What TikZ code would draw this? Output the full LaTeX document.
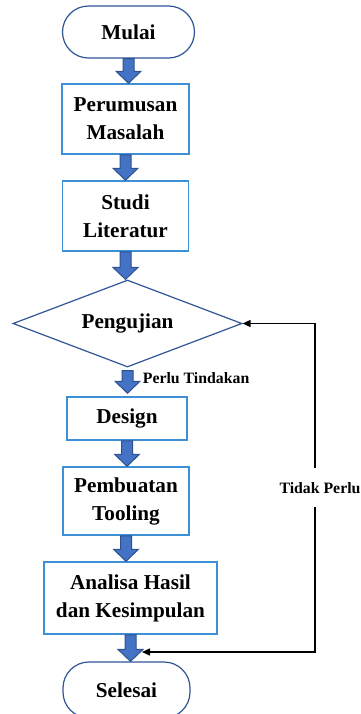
\documentclass[tikz,border=0pt]{standalone}
\usepackage{fontspec}
\setmainfont{Liberation Serif}
\usepackage{tikz}
\usepackage{xcolor}
\usetikzlibrary{arrows.meta,positioning,shapes,calc}
\definecolor{termline}{HTML}{2F5597}
\definecolor{boxline}{HTML}{3D8FD6}
\definecolor{arrfill}{HTML}{4472C4}
\definecolor{arrline}{HTML}{2F528F}
\tikzset{
  terminal/.style={draw=termline,fill=white,line width=0.6pt,rounded corners=13pt,
                   inner sep=0pt,font=\fontsize{10.6}{14}\selectfont\bfseries},
  prosesbox/.style={draw=boxline,fill=white,line width=0.75pt,align=center,
                    inner sep=0pt,font=\fontsize{10.6}{14}\selectfont\bfseries},
  keputusan/.style={diamond,aspect=2.6,draw=termline,line width=0.6pt,inner sep=0pt,
                    minimum width=114.5pt,minimum height=43.5pt,
                    font=\fontsize{10.6}{14}\selectfont\bfseries},
  blockarr/.style={draw=arrline,fill=arrfill,line width=0.5pt,
    to path={let \p1=(\tikztostart),\p2=(\tikztotarget) in
      (\x1-2.75pt,\y1) -- (\x1-2.75pt,\y2+6pt) -- (\x1-6.25pt,\y2+6pt)
      -- (\x1,\y2) -- (\x1+6.25pt,\y2+6pt) -- (\x1+2.75pt,\y2+6pt)
      -- (\x1+2.75pt,\y1) -- cycle}},
  balikarr/.style={{Triangle[length=4pt,width=3.5pt]}-{Triangle[length=4pt,width=3.5pt]},
                   line width=0.75pt,draw=black},
  lbl/.style={font=\fontsize{7.9}{9}\selectfont\bfseries,inner sep=1pt}
}

\begin{document}
\begin{tikzpicture}[x=0.5pt,y=-0.5pt]
    \useasboundingbox (0,0) rectangle (360,714);

    % alur utama
    \node[terminal,minimum width=66pt,minimum height=26pt] (mulai) at (128.5,32) {Mulai};
    \node[prosesbox,minimum width=63.5pt,minimum height=35pt] (rumus) at (125.5,119)
      {Perumusan\\Masalah};
    \node[prosesbox,minimum width=63pt,minimum height=35pt] (studi) at (125.5,216)
      {Studi\\Literatur};
    \node[keputusan] (uji) at (127.5,323.5) {Pengujian};
    \node[prosesbox,minimum width=60pt,minimum height=21.5pt] (design) at (127,418.5)
      {Design};
    \node[prosesbox,minimum width=63pt,minimum height=34pt] (buat) at (126,501)
      {Pembuatan\\Tooling};
    \node[prosesbox,minimum width=86.5pt,minimum height=36pt] (analisa) at (130.5,598)
      {Analisa Hasil\\dan Kesimpulan};
    \node[terminal,minimum width=63.5pt,minimum height=28pt] (selesai) at (126.5,690)
      {Selesai};

    \draw[blockarr] (mulai.south) to (rumus.north);
    \draw[blockarr] (rumus.south) to (studi.north);
    \draw[blockarr] (studi.south) to (uji.north);
    \draw[blockarr] ([yshift=-1.5pt]uji.south) to ([yshift=1.5pt]design.north);
    \draw[blockarr] (design.south) to (buat.north);
    \draw[blockarr] (buat.south) to (analisa.north);
    \draw[blockarr] (analisa.south) to (selesai.north);

    \node[lbl,anchor=north west] (perlu) at ([xshift=6.5pt,yshift=-1.5pt]uji.south)
      {Perlu Tindakan};

    % jalur tidak perlu
    \coordinate (kanan) at (315,652);
    \coordinate (gabung) at (142,652);
    \draw[balikarr] (uji.east) -| node[lbl,fill=white,inner ysep=7pt,pos=0.75,
      xshift=2.5pt] (tidak) {Tidak Perlu} (kanan) -- (gabung);
\end{tikzpicture}
\end{document}
